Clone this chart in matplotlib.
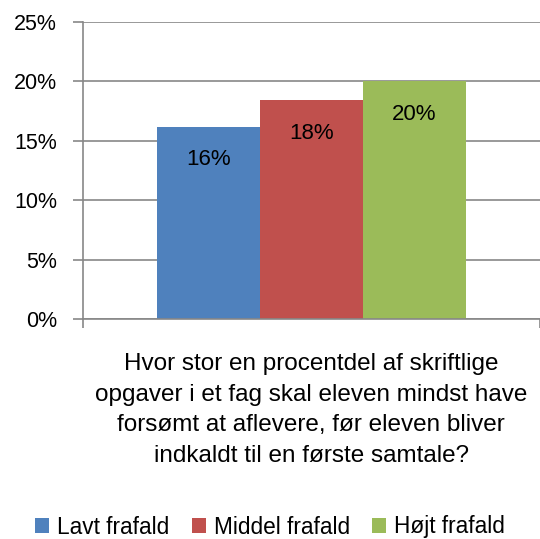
import matplotlib.pyplot as plt

# data
grupper = ['Lavt frafald', 'Middel frafald', 'Højt frafald']
vaerdier = [16.2, 18.4, 20.0]
etiketter = ['16%', '18%', '20%']
farver = ['#4F81BD', '#C0504D', '#9BBB59']
y_ticks = [0, 5, 10, 15, 20, 25]
kategori = ('Hvor stor en procentdel af skriftlige\n'
            'opgaver i et fag skal eleven mindst have\n'
            'forsømt at aflevere, før eleven bliver\n'
            'indkaldt til en første samtale?')

plt.rcParams['font.family'] = ['Liberation Sans', 'DejaVu Sans']

fig = plt.figure(figsize=(5.40, 5.39), dpi=100)
ax = fig.add_axes([83 / 540, 1 - 319 / 539, 457 / 540, (319 - 22) / 539])

pos = [-1, 0, 1]
for x, v, f, navn, lab in zip(pos, vaerdier, farver, grupper, etiketter):
    ax.bar(x, v, width=1.0, color=f, label=navn, zorder=2)
    ax.annotate(lab, (x, v), xytext=(0, -23.5), textcoords='offset points',
                ha='center', va='center', fontsize=16, color='black')

ax.set_xlim(-2.218, 2.218)
ax.set_ylim(0, 25)
ax.set_yticks(y_ticks)
ax.set_yticklabels([f'{t}%' for t in y_ticks], fontsize=15.5)
ax.yaxis.grid(True, color='#878787', linewidth=1.2, zorder=0)
ax.set_xticks([-2.218, 2.218])
ax.set_xticklabels(['', ''])
ax.tick_params(axis='y', length=7.2, width=1.2, color='#878787', pad=11.5)
ax.tick_params(axis='x', length=6.5, width=1.2, color='#878787')
for s in ['top', 'right']:
    ax.spines[s].set_visible(False)
for s in ['left', 'bottom']:
    ax.spines[s].set_color('#878787')
    ax.spines[s].set_linewidth(1.2)

fig.text(311 / 540, 1 - 410 / 539, kategori, ha='center', va='center',
         fontsize=17.5, linespacing=1.52)

leg = fig.legend(loc='center', bbox_to_anchor=(0.5, 1 - 527 / 539), ncol=3,
                 frameon=False, fontsize=16.3, handlelength=0.62, handleheight=0.62,
                 handletextpad=0.35, columnspacing=1.0)

fig.savefig('out.png', dpi=100)
